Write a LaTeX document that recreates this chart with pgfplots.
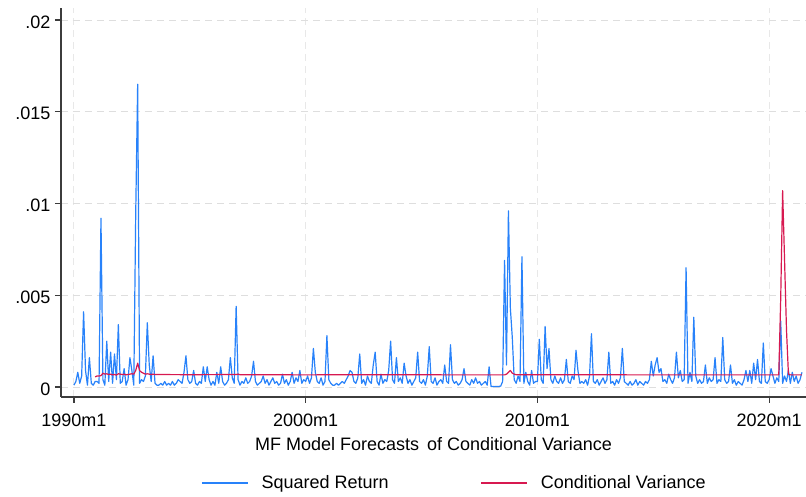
\documentclass[border=0pt]{standalone}
\usepackage{fontspec}
\setmainfont{Liberation Sans}
\usepackage{pgfplots}
\usepackage{pgfplotstable}
\pgfplotsset{compat=1.18}
\definecolor{sqblue}{RGB}{40,130,250}
\definecolor{cvred}{RGB}{215,25,80}
\definecolor{gridgray}{RGB}{222,222,222}
\definecolor{vgridgray}{RGB}{232,232,232}
\definecolor{axgray}{RGB}{60,60,60}

% Squared return, monthly from 1990m1 (row index 0) to 2021m6
\pgfplotstableread[row sep=\\]{
v\\
0.0001\\ 0.0003\\ 0.0008\\ 0.0002\\ 0.0006\\ 0.0041\\ 0.0009\\ 0.0001\\ 0.0016\\ 0.0002\\ 0.0001\\ 0.0003\\
0.0003\\ 0.0002\\ 0.0092\\ 0.0004\\ 0.0001\\ 0.0025\\ 0.0003\\ 0.0019\\ 0.0002\\ 0.0018\\ 0.0004\\ 0.0034\\
0.0002\\ 0.0003\\ 0.0010\\ 0.0001\\ 0.0004\\ 0.0016\\ 0.0009\\ 0.0001\\ 0.0095\\ 0.0165\\ 0.0002\\ 0.0004\\
0.0003\\ 0.0006\\ 0.0035\\ 0.0012\\ 0.0003\\ 0.0017\\ 0.0002\\ 0.0001\\ 0.0001\\ 0.0002\\ 0.0001\\ 0.0003\\
0.0001\\ 0.0002\\ 0.0001\\ 0.0003\\ 0.0001\\ 0.0002\\ 0.0004\\ 0.0003\\ 0.0002\\ 0.0008\\ 0.0017\\ 0.0004\\
0.0002\\ 0.0003\\ 0.0009\\ 0.0002\\ 0.0001\\ 0.0003\\ 0.0002\\ 0.0011\\ 0.0003\\ 0.0011\\ 0.0004\\ 0.0001\\
0.0003\\ 0.0001\\ 0.0008\\ 0.0002\\ 0.0011\\ 0.0003\\ 0.0001\\ 0.0002\\ 0.0004\\ 0.0016\\ 0.0005\\ 0.0002\\
0.0044\\ 0.0004\\ 0.0001\\ 0.0003\\ 0.0002\\ 0.0005\\ 0.0002\\ 0.0003\\ 0.0006\\ 0.0014\\ 0.0003\\ 0.0001\\
0.0002\\ 0.0003\\ 0.0006\\ 0.0002\\ 0.0004\\ 0.0001\\ 0.0003\\ 0.0005\\ 0.0002\\ 0.0003\\ 0.0001\\ 0.0002\\
0.0007\\ 0.0002\\ 0.0004\\ 0.0001\\ 0.0003\\ 0.0008\\ 0.0002\\ 0.0005\\ 0.0003\\ 0.0009\\ 0.0002\\ 0.0004\\
0.0003\\ 0.0006\\ 0.0002\\ 0.0005\\ 0.0021\\ 0.0008\\ 0.0003\\ 0.0002\\ 0.0005\\ 0.0001\\ 0.0003\\ 0.0028\\
0.0004\\ 0.0002\\ 0.0001\\ 0.0001\\ 0.0002\\ 0.0001\\ 0.0002\\ 0.0003\\ 0.0002\\ 0.0004\\ 0.0006\\ 0.0009\\
0.0008\\ 0.0003\\ 0.0002\\ 0.0005\\ 0.0018\\ 0.0002\\ 0.0004\\ 0.0001\\ 0.0006\\ 0.0003\\ 0.0002\\ 0.0012\\
0.0019\\ 0.0003\\ 0.0001\\ 0.0007\\ 0.0002\\ 0.0004\\ 0.0003\\ 0.0009\\ 0.0025\\ 0.0004\\ 0.0002\\ 0.0016\\
0.0003\\ 0.0005\\ 0.0002\\ 0.0013\\ 0.0006\\ 0.0002\\ 0.0004\\ 0.0001\\ 0.0003\\ 0.0005\\ 0.0019\\ 0.0003\\
0.0002\\ 0.0004\\ 0.0001\\ 0.0006\\ 0.0022\\ 0.0003\\ 0.0002\\ 0.0005\\ 0.0001\\ 0.0003\\ 0.0004\\ 0.0002\\
0.0012\\ 0.0003\\ 0.0002\\ 0.0023\\ 0.0004\\ 0.0002\\ 0.0003\\ 0.0001\\ 0.0002\\ 0.0004\\ 0.0010\\ 0.0003\\
0.0002\\ 0.0001\\ 0.0004\\ 0.0002\\ 0.0005\\ 0.0002\\ 0.0003\\ 0.0001\\ 0.0002\\ 0.0003\\ 0.0001\\ 0.0011\\
0.00003\\ 0.00003\\ 0.00002\\ 0.00003\\ 0.00003\\ 0.00005\\ 0.0003\\ 0.0069\\ 0.0012\\ 0.0096\\ 0.0043\\ 0.0027\\
0.0004\\ 0.0002\\ 0.0006\\ 0.0003\\ 0.0071\\ 0.0002\\ 0.0008\\ 0.0003\\ 0.0001\\ 0.0009\\ 0.0002\\ 0.0003\\
0.0003\\ 0.0026\\ 0.0004\\ 0.0002\\ 0.0033\\ 0.0010\\ 0.0021\\ 0.0004\\ 0.0002\\ 0.0006\\ 0.0003\\ 0.0002\\
0.0005\\ 0.0002\\ 0.0004\\ 0.0015\\ 0.0003\\ 0.0002\\ 0.0006\\ 0.0004\\ 0.0020\\ 0.0009\\ 0.0002\\ 0.0003\\
0.0002\\ 0.0004\\ 0.0001\\ 0.0006\\ 0.0029\\ 0.0003\\ 0.0002\\ 0.0004\\ 0.0001\\ 0.0003\\ 0.0005\\ 0.0002\\
0.0004\\ 0.0019\\ 0.0002\\ 0.0003\\ 0.0001\\ 0.0004\\ 0.0002\\ 0.0005\\ 0.0021\\ 0.0003\\ 0.0002\\ 0.0001\\
0.0003\\ 0.0001\\ 0.0002\\ 0.0004\\ 0.0001\\ 0.0003\\ 0.0002\\ 0.0001\\ 0.0003\\ 0.0002\\ 0.0004\\ 0.0014\\
0.0006\\ 0.0012\\ 0.0016\\ 0.0008\\ 0.0010\\ 0.0003\\ 0.0004\\ 0.0002\\ 0.0007\\ 0.0004\\ 0.0002\\ 0.0005\\
0.0019\\ 0.0005\\ 0.0009\\ 0.0003\\ 0.0004\\ 0.0065\\ 0.0002\\ 0.0008\\ 0.0003\\ 0.0038\\ 0.0006\\ 0.0002\\
0.0004\\ 0.0002\\ 0.0003\\ 0.0012\\ 0.0002\\ 0.0005\\ 0.0003\\ 0.0004\\ 0.0016\\ 0.0002\\ 0.0004\\ 0.0003\\
0.0027\\ 0.0004\\ 0.0002\\ 0.0003\\ 0.0012\\ 0.0002\\ 0.0004\\ 0.0001\\ 0.0003\\ 0.0002\\ 0.0001\\ 0.0004\\
0.0009\\ 0.0003\\ 0.0009\\ 0.0002\\ 0.0013\\ 0.0004\\ 0.0015\\ 0.0003\\ 0.0002\\ 0.0024\\ 0.0003\\ 0.0002\\
0.0004\\ 0.0010\\ 0.0006\\ 0.0002\\ 0.0005\\ 0.0003\\ 0.0036\\ 0.0002\\ 0.0006\\ 0.0003\\ 0.0009\\ 0.0002\\
0.0008\\ 0.0003\\ 0.0006\\ 0.0002\\ 0.0004\\ 0.0008\\
}\sqret

\begin{document}
\begin{tikzpicture}[font=\fontsize{18}{21}\selectfont]
\begin{axis}[
  name=ax, at={(0,0)}, anchor=south west,
  scale only axis, width=745pt, height=389pt,
  xmin=-6.7, xmax=379.1, ymin=-0.000545, ymax=0.020654,
  axis x line*=bottom, axis y line*=left,
  axis line style={axgray, line width=1.3pt},
  xtick={0,120,240,360}, xticklabels={1990m1,2000m1,2010m1,2020m1},
  ytick={0,0.005,0.01,0.015,0.02}, yticklabels={0,.005,.01,.015,.02},
  scaled y ticks=false,
  /pgf/number format/assume math mode=true,
  tick align=outside, major tick length=6pt,
  tick style={axgray, line width=1.2pt},
  xticklabel style={yshift=-7pt},
  yticklabel style={yshift=-2pt, xshift=-1pt},
  ymajorgrids, xmajorgrids,
  y grid style={gridgray, dash pattern=on 7pt off 5pt, line width=0.9pt},
  x grid style={vgridgray, dash pattern=on 7pt off 5pt, line width=0.9pt},
  xlabel={MF Model Forecasts\hspace{0.45em}of Conditional Variance},
  xlabel style={at={(axis description cs:0.5,0)}, anchor=center, yshift=-47pt},
  legend style={at={(axis description cs:0.5,0)}, anchor=center, yshift=-86pt, xshift=21pt,
    draw=none, fill=none, legend columns=2,
    /tikz/every odd column/.append style={column sep=11pt},
    /tikz/every even column/.append style={column sep=90pt}},
  legend image code/.code={\draw[#1, line width=1.2pt] (0pt,0pt) -- (46pt,0pt);},
  legend cell align=left,
]
\addplot[sqblue, line width=1.2pt, line join=round] table[x expr=\coordindex, y=v] {\sqret};
\addlegendentry{Squared Return}
\addplot[cvred, line width=1.2pt, line join=round] coordinates {
(11,0.00055)(12,0.0006)(13,0.0006)(14,0.00062)(15,0.00075)(16,0.0007)(17,0.00072)(18,0.00068)
(19,0.0007)(20,0.00066)(21,0.00068)(22,0.00065)(23,0.00072)(24,0.0007)(25,0.00068)(26,0.0007)
(27,0.00066)(28,0.00068)(29,0.0007)(30,0.00072)(31,0.0007)(32,0.0009)(33,0.0013)(34,0.0009)
(35,0.0008)(36,0.00075)(37,0.0007)(38,0.00072)(39,0.0007)(40,0.00068)(41,0.0007)(42,0.00068)
(60,0.00067)(84,0.00068)(85,0.0007)(86,0.00067)(120,0.00066)(150,0.00067)(200,0.00066)
(223,0.00066)(224,0.0007)(225,0.0008)(226,0.0009)(227,0.00075)(228,0.0007)(229,0.00067)
(300,0.00066)(365,0.00066)(366,0.0048)(367,0.0107)(368,0.0069)(369,0.0031)(370,0.0007)
(371,0.00066)(377,0.00066)
};
\addlegendentry{Conditional Variance}
\end{axis}
\pgfresetboundingbox
\path[use as bounding box] (-61pt,-100pt) rectangle (745pt,397pt);
\end{tikzpicture}
\end{document}
